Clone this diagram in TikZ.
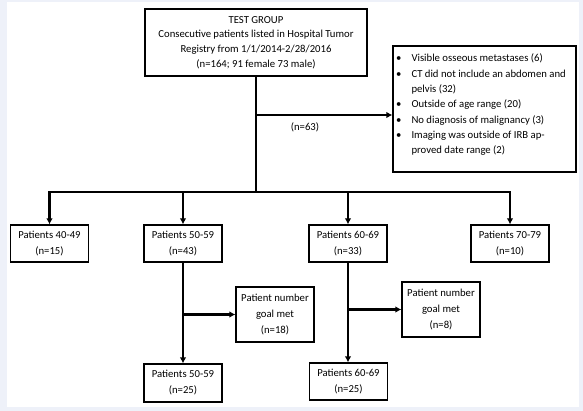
\documentclass[tikz,border=0pt]{standalone}
\usepackage{fontspec}
\setmainfont{Carlito}
\usetikzlibrary{arrows.meta}
\definecolor{bgc}{RGB}{238,241,249}
\begin{document}
\begin{tikzpicture}[x=1pt,y=-1pt,
  box/.style={draw=black, line width=1.2pt, rectangle, inner sep=0pt, align=center,
    font=\fontsize{10.7}{16}\selectfont},
  agebox/.style={box, minimum width=78pt, minimum height=37pt},
  goalbox/.style={box, minimum width=78pt, minimum height=55pt},
  lbl/.style={inner sep=0pt, font=\fontsize{10.7}{15.3}\selectfont},
  conn/.style={line width=2.4pt, -{Latex[length=6pt,width=6.5pt]}},
  trunk/.style={line width=2.4pt, line cap=rect}]
\useasboundingbox (0,0) rectangle (583,411);
\fill[bgc] (0,0) rectangle (583,411);
\fill[white] (7,2) rectangle (579,407);

% top box
\node[box, minimum width=222pt, minimum height=67pt,
  font=\fontsize{10.7}{14.7}\selectfont] (top) at (256,42.5)
  {TEST GROUP\\Consecutive patients listed in Hospital Tumor\\Registry from 1/1/2014-2/28/2016\\(n=164; 91 female 73 male)};

% exclusion box
\node[box, minimum width=183pt, minimum height=126pt] (excl) at (484.5,109) {};
\node[lbl, anchor=north west] (excltext) at (396,51)
  {\begin{tabular}{@{}l@{\hspace{10pt}}l@{}}
  \textbullet & Visible osseous metastases (6)\\
  \textbullet & CT did not include an abdomen and\\
   & pelvis (32)\\
  \textbullet & Outside of age range (20)\\
  \textbullet & No diagnosis of malignancy (3)\\
  \textbullet & Imaging was outside of IRB ap-\\
   & proved date range (2)
  \end{tabular}};

\node[lbl] (n63) at (305,127) {(n=63)};

% age boxes
\node[agebox] (p40) at (49.5,243.5) {Patients 40-49\\(n=15)};
\node[agebox] (p50) at (183,243.5) {Patients 50-59\\(n=43)};
\node[agebox] (p60) at (348,243.5) {Patients 60-69\\(n=33)};
\node[agebox] (p70) at (510,243.5) {Patients 70-79\\(n=10)};

% goal boxes
\node[goalbox] (g50) at (275,314.5) {Patient number\\goal met\\(n=18)};
\node[goalbox] (g60) at (441,309.5) {Patient number\\goal met\\(n=8)};

% final boxes
\node[agebox, minimum height=38pt] (q50) at (183,383) {Patients 50-59\\(n=25)};
\node[agebox, minimum height=37pt] (q60) at (348.5,381.5) {Patients 60-69\\(n=25)};

% connectors
\coordinate (j1) at (256,115);
\coordinate (j2) at (256,192);
\draw[line width=2.4pt] (top.south) -- (j2);
\draw[conn] (j1) -- (j1 -| excl.west);
\draw[trunk] (p40.north |- j2) -- (p70.north |- j2);
\draw[conn] (p40.north |- j2) -- (p40.north);
\draw[conn] (p50.north |- j2) -- (p50.north);
\draw[conn] (p60.north |- j2) -- (p60.north);
\draw[conn] (p70.north |- j2) -- (p70.north);

\draw[conn] (p50.south) -- (q50.north);
\draw[conn] (p50.south |- g50.west) -- (g50.west);
\draw[conn] (p60.south) -- (p60.south |- q60.north);
\draw[conn] (p60.south |- g60.west) -- (g60.west);
\end{tikzpicture}
\end{document}
